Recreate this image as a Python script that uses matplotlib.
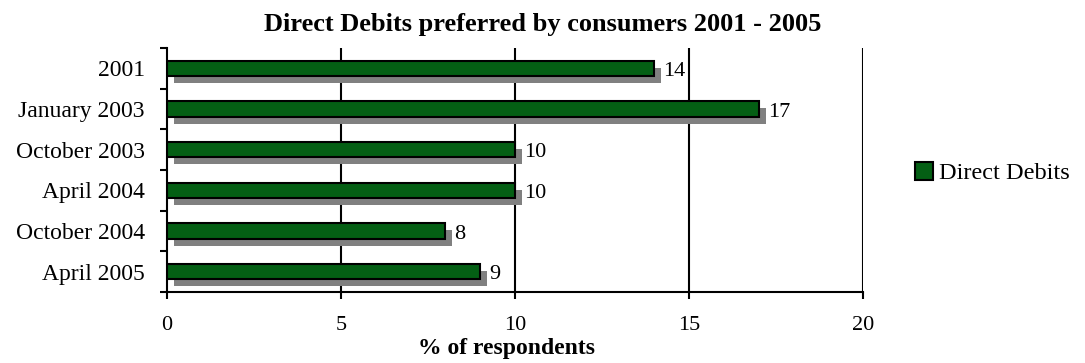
import matplotlib
matplotlib.use("Agg")
import matplotlib.pyplot as plt
import matplotlib.patheffects as pe
from matplotlib.patches import Patch
import numpy as np

periods = ["2001", "January 2003", "October 2003", "April 2004",
           "October 2004", "April 2005"]
share = [14, 17, 10, 10, 8, 9]

plt.rcParams['font.family'] = ['Liberation Serif', 'DejaVu Serif']
green = "#045f14"

fig = plt.figure(figsize=(10.85, 3.63), dpi=100)
ax = fig.add_axes([167 / 1085, 1 - 292 / 363, (863 - 167) / 1085, (292 - 48) / 363])

pos = np.arange(len(periods))
bars = ax.barh(pos, share, height=0.38, color=green, edgecolor="black",
               linewidth=1.5, zorder=3)
for b in bars:
    b.set_path_effects([pe.SimplePatchShadow(offset=(5, -5), shadow_rgbFace="#808080", alpha=1),
                        pe.Normal()])

for p, v in zip(pos, share):
    ax.annotate(str(v), (v, p), xytext=(6.5, -5.5), textcoords="offset points",
                va="baseline", ha="left", fontsize=16)

ax.set_xlim(0, 20)
ax.set_ylim(len(periods) - 0.5, -0.5)
ax.set_xticks([0, 5, 10, 15, 20])
ax.tick_params(axis="x", labelsize=16, length=5, width=1.5, direction="out", pad=12)
for x in [5, 10, 15, 20]:
    ax.axvline(x, color="black", linewidth=1.5, zorder=1)

ax.set_yticks(pos)
ax.set_yticklabels(periods, fontsize=17)
ax.tick_params(axis="y", length=0, pad=16)
ax.set_yticks(np.arange(len(periods) + 1) - 0.5, minor=True)
ax.tick_params(axis="y", which="minor", length=5, width=1.5, direction="out")

for s in ["top", "right"]:
    ax.spines[s].set_visible(False)
for s in ["left", "bottom"]:
    ax.spines[s].set_linewidth(1.5)

fig.text(0.5, 1 - 24 / 363, "Direct Debits preferred by consumers 2001 - 2005", fontsize=19,
         fontweight="bold", ha="center", va="center")
ax.set_xlabel("% of respondents", fontsize=17, fontweight="bold", labelpad=3)
ax.xaxis.set_label_coords((506 - 167) / 696, -0.19)

handle = Patch(facecolor=green, edgecolor="black", linewidth=1.5, label="Direct Debits")
fig.legend(handles=[handle], loc="center left", bbox_to_anchor=(893 / 1085, 1 - 173 / 363),
           frameon=False, fontsize=17.5, handlelength=0.75, handleheight=0.75, handletextpad=0.25)

fig.savefig("out.png", dpi=100)
